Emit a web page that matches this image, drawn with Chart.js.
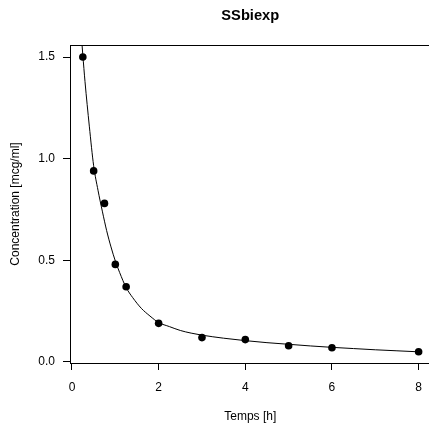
<!DOCTYPE html>
<html>
<head>
<meta charset="utf-8">
<script src="https://cdn.jsdelivr.net/npm/chart.js@4/dist/chart.umd.min.js"></script>
<style>
html, body { margin: 0; padding: 0; background: #fff; overflow: hidden; }
</style>
</head>
<body>
<canvas id="chart" width="432" height="426"></canvas>
<script>
// observed concentrations
var temps = [0.25, 0.5, 0.75, 1, 1.25, 2, 3, 4, 5, 6, 8];
var conc = [1.50, 0.94, 0.78, 0.48, 0.37, 0.19, 0.12, 0.11, 0.08, 0.07, 0.05];

// fitted biexp curve
var fitTemps = [0.2, 0.25, 0.3, 0.4, 0.5, 0.6, 0.7, 0.8, 0.9, 1.0, 1.1, 1.25, 1.4, 1.6, 1.8, 2.0, 2.25, 2.5, 2.75, 3.0, 3.5, 4.0, 4.5, 5.0, 5.5, 6.0, 6.5, 7.0, 7.5, 8.0];
var fitConc = [1.65, 1.51, 1.38, 1.16, 0.965, 0.845, 0.742, 0.646, 0.566, 0.497, 0.440, 0.366, 0.317, 0.264, 0.226, 0.194, 0.174, 0.155, 0.142, 0.132, 0.117, 0.105, 0.095, 0.087, 0.079, 0.072, 0.066, 0.060, 0.055, 0.050];

var xTicks = [0, 2, 4, 6, 8];
var yTicks = [0, 0.5, 1, 1.5];

var font = "'Liberation Sans', Arial, Helvetica, sans-serif";

function toPoints(xs, ys) {
  var out = [];
  for (var i = 0; i < xs.length; i++) out.push({ x: xs[i], y: ys[i] });
  return out;
}

// R draws the top edge of the box too
var topLine = {
  id: "topLine",
  afterDraw: function (chart) {
    var a = chart.chartArea;
    var ctx = chart.ctx;
    var y = Math.round(a.top) + 0.5;
    ctx.save();
    ctx.strokeStyle = "#000";
    ctx.lineWidth = 1;
    ctx.beginPath();
    ctx.moveTo(a.left, y);
    ctx.lineTo(a.right, y);
    ctx.stroke();
    ctx.restore();
  }
};

var ctx = document.getElementById("chart").getContext("2d");
var chart = new Chart(ctx, {
  type: "scatter",
  data: {
    datasets: [
      {
        label: "fit",
        data: toPoints(fitTemps, fitConc),
        showLine: true,
        cubicInterpolationMode: "monotone",
        borderColor: "#000",
        borderWidth: 1,
        pointRadius: 0,
        fill: false
      },
      {
        label: "obs",
        data: toPoints(temps, conc),
        showLine: false,
        pointRadius: 3.8,
        pointBackgroundColor: "#000",
        pointBorderColor: "#000",
        pointBorderWidth: 0
      }
    ]
  },
  options: {
    responsive: false,
    animation: false,
    layout: { padding: 0, autoPadding: false },
    plugins: {
      legend: { display: false },
      tooltip: { enabled: false },
      title: {
        display: true,
        text: "SSbiexp",
        fullSize: false,
        color: "#000",
        font: { family: font, size: 14.7, weight: "bold" },
        padding: { top: 7.2, bottom: 20.2 }
      }
    },
    scales: {
      x: {
        type: "linear",
        min: -0.046,
        max: 8.276,
        afterFit: function (s) { s.height = 63; },
        afterBuildTicks: function (s) {
          s.ticks = xTicks.map(function (v) { return { value: v }; });
        },
        grid: { drawOnChartArea: false, drawTicks: true, tickLength: 7, color: "#000" },
        border: { color: "#000", width: 1 },
        ticks: {
          color: "#000",
          font: { family: font, size: 12 },
          padding: 10,
          maxRotation: 0,
          callback: function (v) { return String(v); }
        },
        title: {
          display: true,
          text: "Temps [h]",
          color: "#000",
          font: { family: font, size: 12 },
          padding: { top: 0, bottom: 1.8 }
        }
      },
      y: {
        type: "linear",
        min: -0.005,
        max: 1.559,
        afterFit: function (s) { s.width = 70; },
        afterBuildTicks: function (s) {
          s.ticks = yTicks.map(function (v) { return { value: v }; });
        },
        grid: { drawOnChartArea: false, drawTicks: true, tickLength: 7, color: "#000" },
        border: { color: "#000", width: 1 },
        ticks: {
          color: "#000",
          font: { family: font, size: 12 },
          padding: 8,
          callback: function (v) { return v.toFixed(1); }
        },
        title: {
          display: true,
          text: "Concentration [mcg/ml]",
          color: "#000",
          font: { family: font, size: 12 },
          padding: { top: 8.8, bottom: 0 }
        }
      }
    }
  },
  plugins: [topLine]
});
</script>
</body>
</html>
